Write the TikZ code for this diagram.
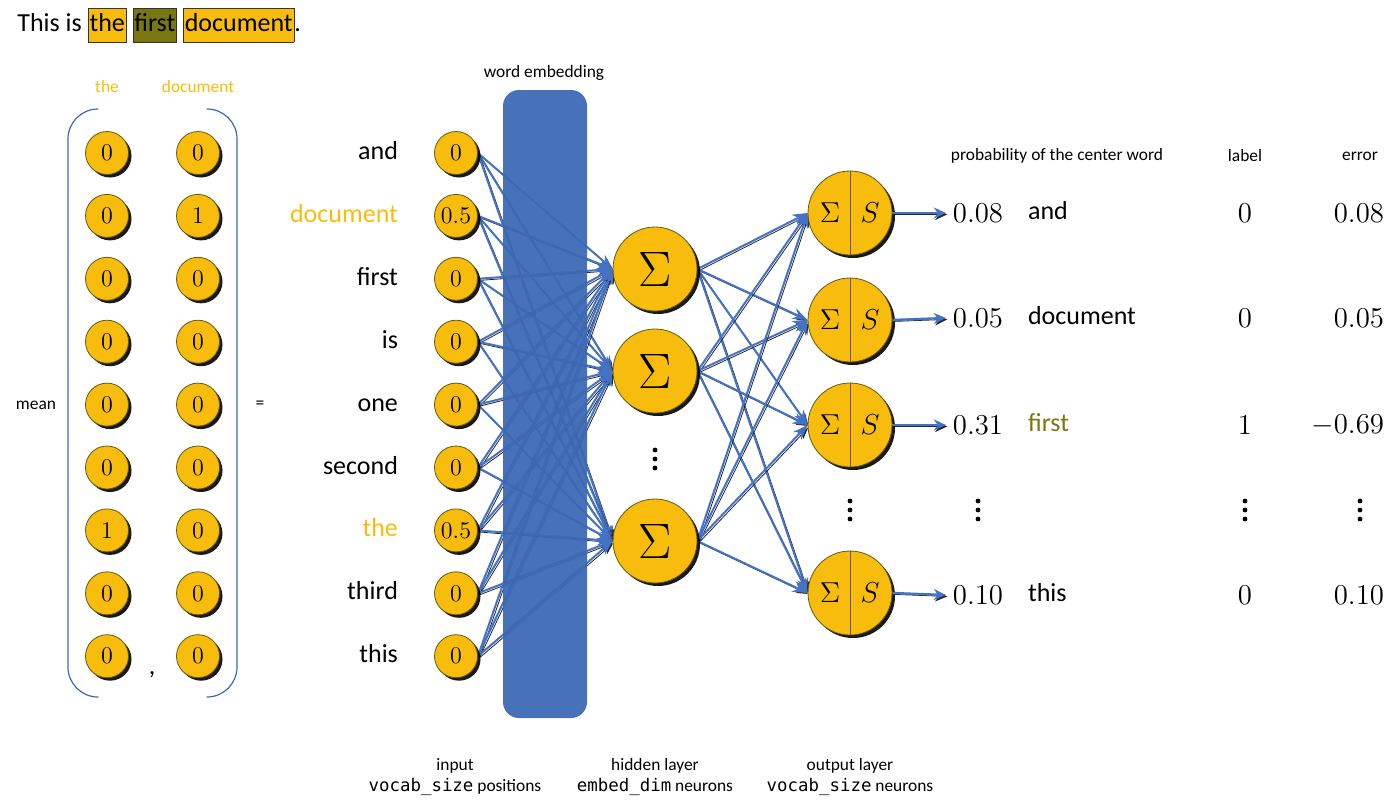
\documentclass[tikz,border=0pt]{standalone}
\usepackage{fontspec}
\setmainfont{Carlito}
\setmonofont{DejaVu Sans Mono}
\usetikzlibrary{shadows,arrows.meta}
\definecolor{gold}{RGB}{248,189,12}
\definecolor{olive}{RGB}{122,118,16}
\definecolor{rim}{RGB}{100,90,15}
\definecolor{embblue}{RGB}{60,104,180}
\definecolor{linkblue}{RGB}{68,114,196}
\setlength{\fboxsep}{0.5pt}
\newcommand{\hl}[1]{\fcolorbox{black!80}{gold}{\strut #1}}
\newcommand{\hlf}[1]{\fcolorbox{black!80}{olive}{\strut #1}}
\newcommand{\threedots}[1]{\foreach \d in {-9,0,9} \fill ([yshift=\d*0.5pt]#1) circle (1.2pt);}
\pgfdeclarelayer{background}
\pgfsetlayers{background,main}
\tikzset{
  unit/.style={circle,draw=rim,fill=gold,inner sep=0pt,minimum size=21.5pt,
    font=\fontsize{13}{13}\selectfont,
    drop shadow={shadow xshift=1.5pt,shadow yshift=-1.5pt,opacity=0.9,fill=black}},
  sumunit/.style={unit,minimum size=42pt,font=\fontsize{24.88}{26}\selectfont},
  link/.style={->,draw=linkblue,line width=1pt,
    preaction={draw=black!85,transform canvas={shift={(0.8pt,-0.8pt)}}}},
  outarrow/.style={-{Stealth[length=6pt,width=5.5pt]},draw=linkblue,line width=1.2pt,
    preaction={draw=black!85,transform canvas={shift={(0.7pt,-0.7pt)}}}},
  word/.style={font=\fontsize{13}{15.6}\selectfont,text height=9pt,text depth=2.5pt},
  num/.style={font=\fontsize{13.5}{15}\selectfont},
  small/.style={font=\fontsize{8.7}{10.5}\selectfont},
  embed/.style={rectangle,rounded corners=8pt,fill=embblue,fill opacity=0.94,
    minimum width=42pt,minimum height=314pt,inner sep=0pt},
  brace/.style={draw=embblue,line width=0.6pt,rounded corners=15pt}
}
\begin{document}
\begin{tikzpicture}[x=0.5pt,y=-0.5pt,>=Stealth,line join=round]
\useasboundingbox (0,0) rectangle (1400,809);

% sentence
\node[anchor=west,inner sep=0pt,font=\fontsize{13}{15.6}\selectfont] (sent) at (17,25) {This is \hl{the} \hlf{first} \hl{document}.};

% one-hot columns
\node[small,text=gold] (hthe) at (107,87) {the};
\node[small,text=gold] (hdoc) at (198,87) {document};
\foreach \r/\a/\b [evaluate=\r as \y using 153+62.9*(\r-1)] in {1/0/0,2/0/1,3/0/0,4/0/0,5/0/0,6/0/0,7/1/0,8/0/0,9/0/0}{
  \node[unit] (ma\r) at (107,\y) {$\a$};
  \node[unit] (mb\r) at (198,\y) {$\b$};
}
\draw[brace] (97,109) -- (68,109) -- (68,697) -- (97,697);
\draw[brace] (209,109) -- (237,109) -- (237,697) -- (209,697);
\node[small] (mean) at (36,405) {mean};
\node[small] (eq) at (260,405) {=};
\node[word] (comma) at (152,668) {,};

% input layer
\foreach \r/\w/\v/\c [evaluate=\r as \y using 153+62.9*(\r-1)] in {1/and/0/black,2/document/0.5/gold,3/first/0/black,4/is/0/black,5/one/0/black,6/second/0/black,7/the/0.5/gold,8/third/0/black,9/this/0/black}{
  \node[word,anchor=east,text=\c] (w\r) at (405,\y) {\w};
  \node[unit] (in\r) at (456,\y) {$\v$};
}

% hidden layer
\foreach \j/\y in {1/269,2/371,3/541}
  \node[sumunit] (h\j) at (655,\y) {$\Sigma$};
\coordinate (hdots) at (655,459);
\threedots{hdots}

% output layer
\foreach \k/\y in {1/213,2/320,3/425,4/593}{
  \node[sumunit] (o\k) at (850,\y) {};
  \draw[rim] (o\k.north) -- (o\k.south);
  \node[num] (os\k) at ([xshift=-10pt]o\k.center) {$\Sigma$};
  \node[num] (of\k) at ([xshift=10pt]o\k.center) {$S$};
}
\coordinate (odots) at (850,510);
\threedots{odots}

% table on the right
\node[small] (hprob) at (1057,156) {probability of the center word};
\node[small] (hlab) at (1245,156) {label};
\node[small] (herr) at (1360,156) {error};
\foreach \k/\y/\p/\w/\c/\l/\e in {1/213/0.08/and/black/0/0.08,2/318/0.05/document/black/0/0.05,3/425/0.31/first/olive/1/-0.69,4/595/0.10/this/black/0/0.10}{
  \node[num] (p\k) at (978,\y) {$\p$};
  \node[word,anchor=west,text=\c] (ow\k) at (1021,\y) {\w};
  \node[num] (lab\k) at (1245,\y) {$\l$};
  \node[num,anchor=east] (err\k) at (1391,\y) {$\e$};
  \draw[outarrow] (o\k.east) -- (p\k.west);
}
\foreach \x in {978,1245,1360}{
  \coordinate (tdots) at (\x,510);
  \threedots{tdots}
}

% captions
\node[small,align=center] (capin) at (455,777) {input\\\texttt{vocab\_size} positions};
\node[small,align=center] (caphid) at (655,777) {hidden layer\\\texttt{embed\_dim} neurons};
\node[small,align=center] (capout) at (850,777) {output layer\\\texttt{vocab\_size} neurons};
\node[small] (embl) at (544,73) {word embedding};

\begin{pgfonlayer}{background}
\foreach \r in {1,...,9}
  \foreach \j in {1,2,3}
    \draw[link] (in\r.east) -- (h\j.west);
\node[embed] (emb) at (545,404) {};
\foreach \j in {1,2,3}
  \foreach \k in {1,...,4}
    \draw[link] (h\j.east) -- (o\k.west);
\end{pgfonlayer}
\end{tikzpicture}
\end{document}
